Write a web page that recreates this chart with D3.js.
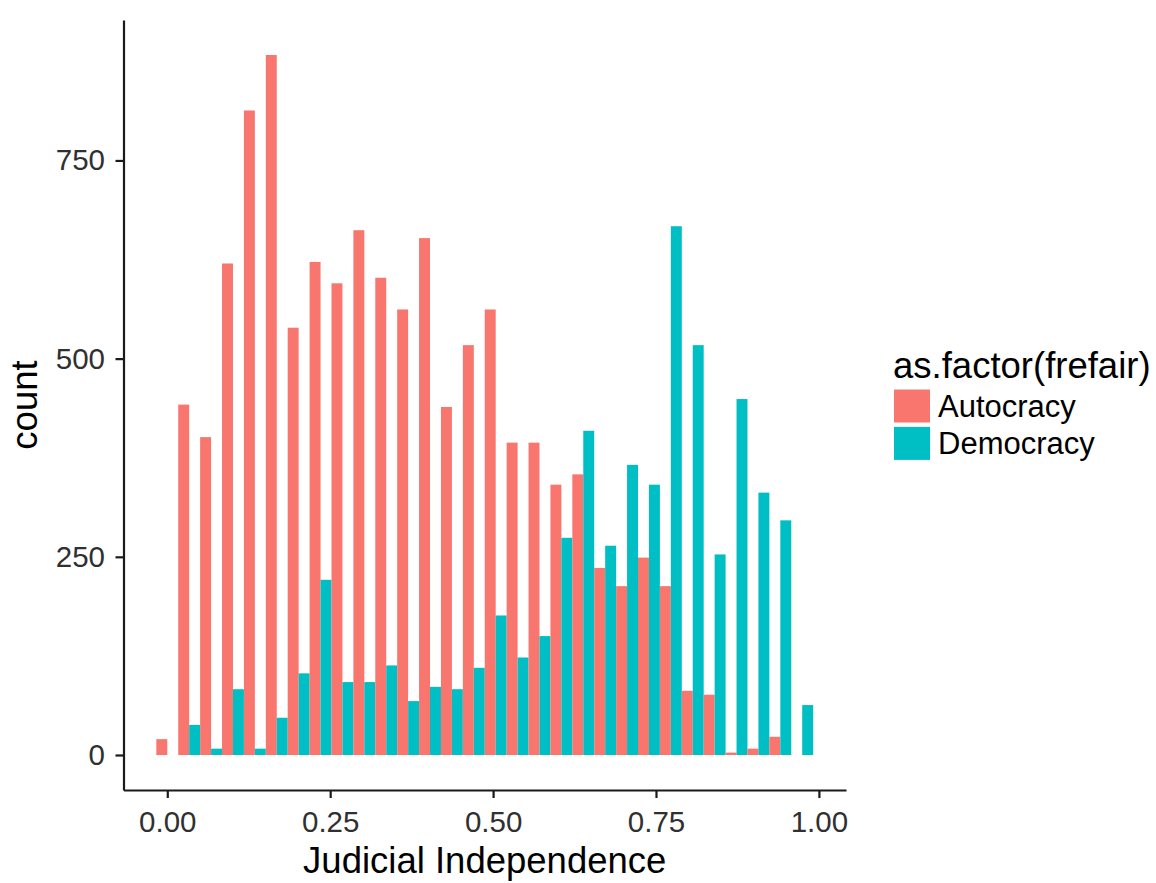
<!DOCTYPE html>
<html>
<head>
<meta charset="utf-8">
<script src="https://cdnjs.cloudflare.com/ajax/libs/d3/7.8.5/d3.min.js"></script>
<style>
  body { margin: 0; background: #fff; }
  svg { display: block; font-family: "Liberation Sans", Arial, sans-serif; }
  .axis text { font-size: 29.5px; fill: #303030; }
  .axis path, .axis line { stroke: #1a1a1a; stroke-width: 2.2px; }
</style>
</head>
<body>
<svg class="chart"></svg>
<script>
const width = 1156,
  height = 883,
  autocracyColor = "#F8766D",
  democracyColor = "#00BFC4";

// histogram bins (centres) and counts
const binCenters = [0.0000, 0.0336, 0.0672, 0.1008, 0.1344, 0.1680, 0.2016, 0.2352, 0.2688, 0.3024,
  0.3360, 0.3696, 0.4032, 0.4368, 0.4704, 0.5040, 0.5376, 0.5712, 0.6048, 0.6384,
  0.6720, 0.7056, 0.7392, 0.7728, 0.8064, 0.8400, 0.8736, 0.9072, 0.9408, 0.9744];
const autocracy = [20, 442, 401, 620, 813, 883, 539, 622, 595, 662, 602, 562, 652, 439, 517,
  562, 394, 394, 341, 354, 236, 213, 249, 213, 81, 76, 3, 8, 23, 0];
const democracy = [0, 38, 8, 83, 8, 47, 103, 221, 92, 92, 113, 68, 86, 83, 110,
  176, 123, 150, 274, 409, 264, 366, 341, 667, 517, 253, 449, 331, 296, 63];
const groups = ["Autocracy", "Democracy"];
const xTicks = [0, 0.25, 0.5, 0.75, 1];
const yTicks = [0, 250, 500, 750];

const panel = { left: 123.5, right: 846, top: 20, bottom: 790 };

const binWidth = binCenters[1] - binCenters[0];
const xMin = binCenters[0] - binWidth / 2,
  xMax = binCenters[binCenters.length - 1] + binWidth / 2,
  xPad = (xMax - xMin) * 0.05;
const yMax = d3.max(autocracy.concat(democracy)),
  yPad = yMax * 0.05;

const x = d3.scaleLinear()
  .domain([xMin - xPad, xMax + xPad])
  .range([panel.left, panel.right]);
const y = d3.scaleLinear()
  .domain([-yPad, yMax + yPad])
  .range([panel.bottom, panel.top]);
const color = d3.scaleOrdinal().domain(groups).range([autocracyColor, democracyColor]);

const chart = d3.select(".chart")
  .attr("width", width)
  .attr("height", height);

// dodged bars: autocracy on the left half of each bin, democracy on the right
let rows = [];
binCenters.forEach((c, i) => {
  rows.push({ group: "Autocracy", x0: c - binWidth / 2, x1: c, n: autocracy[i] });
  rows.push({ group: "Democracy", x0: c, x1: c + binWidth / 2, n: democracy[i] });
});

chart.append("g").selectAll("rect")
  .data(rows.filter(d => d.n > 0))
  .enter().append("rect")
  .attr("x", d => x(d.x0))
  .attr("width", d => x(d.x1) - x(d.x0))
  .attr("y", d => y(d.n))
  .attr("height", d => y(0) - y(d.n))
  .attr("fill", d => color(d.group));

let yAxis = d3.axisLeft(y)
  .tickValues(yTicks)
  .tickSizeInner(8)
  .tickSizeOuter(0)
  .tickPadding(10.5);
let xAxis = d3.axisBottom(x)
  .tickValues(xTicks)
  .tickFormat(d3.format(".2f"))
  .tickSizeInner(8)
  .tickSizeOuter(0)
  .tickPadding(13);

chart.append("g")
  .attr("class", "axis")
  .attr("transform", `translate(${panel.left}, 0)`)
  .call(yAxis);
chart.append("g")
  .attr("class", "axis")
  .attr("transform", `translate(0, ${panel.bottom})`)
  .call(xAxis);
chart.selectAll(".axis text").attr("font-family", null);

// axis titles
chart.append("text")
  .attr("x", (panel.left + panel.right) / 2)
  .attr("y", 873)
  .attr("text-anchor", "middle")
  .style("font-size", "36.5px")
  .text("Judicial Independence");
chart.append("text")
  .attr("transform", `translate(37, ${(panel.top + panel.bottom) / 2}) rotate(-90)`)
  .attr("text-anchor", "middle")
  .style("font-size", "36.5px")
  .text("count");

// legend
const legend = chart.append("g").attr("transform", "translate(893, 0)");
legend.append("text")
  .attr("x", 0)
  .attr("y", 378)
  .style("font-size", "36.5px")
  .text("as.factor(frefair)");
const item = legend.selectAll(".item")
  .data(groups)
  .enter().append("g")
  .attr("transform", (d, i) => `translate(1, ${389.5 + i * 37.4})`);
item.append("rect")
  .attr("width", 36)
  .attr("height", 33)
  .attr("fill", d => color(d));
item.append("text")
  .attr("x", 44)
  .attr("y", 16.5)
  .attr("dy", "0.35em")
  .style("font-size", "31px")
  .text(d => d);
</script>
</body>
</html>
